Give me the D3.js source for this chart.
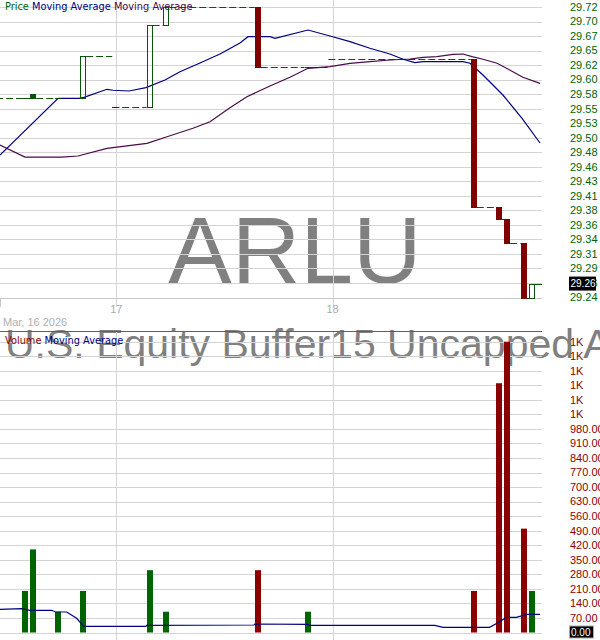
<!DOCTYPE html>
<html><head><meta charset="utf-8">
<script src="https://cdn.jsdelivr.net/npm/d3@7"></script>
<style>body{margin:0;background:#fff;overflow:hidden}svg{display:block}</style>
</head><body>
<script>
// ---------- data (15-minute slot index; slot 0 = first bar of Mar 17) ----------
const candleSlots = [-11, -10, -7, -4, 4, 6, 17, 23, 43, 46, 47, 49, 50];
const opens  = [29.569, 29.576, 29.569, 29.569, 29.554, 29.690, 29.720, 29.621, 29.634, 29.390, 29.370, 29.330, 29.240];
const closes = [29.569, 29.569, 29.569, 29.639, 29.690, 29.720, 29.621, 29.621, 29.390, 29.370, 29.330, 29.240, 29.263];
const volumes = [200, 400, 100, 200, 300, 100, 300, 100, 200, 1200, 1400, 500, 200];
const dayStartSlots = [-26, 0, 26];
const dayLabels = ["", "17", "18"];
const dateLabel = "Mar, 16 2026";
const priceTicks = [29.24, 29.264, 29.288, 29.312, 29.336, 29.36, 29.384, 29.408, 29.432, 29.456, 29.48,
                    29.504, 29.528, 29.552, 29.576, 29.60, 29.624, 29.648, 29.672, 29.696, 29.72];
const priceTickLabels = ["29.24","29.26","29.29","29.31","29.34","29.36","29.38","29.41","29.43","29.46","29.48",
                         "29.50","29.53","29.55","29.58","29.60","29.62","29.65","29.67","29.70","29.72"];
const volTicks = [0,70,140,210,280,350,420,490,560,630,700,770,840,910,980,1050,1120,1190,1260,1330,1400];
const volTickLabels = ["0.00","70.00","140.00","210.00","280.00","350.00","420.00","490.00","560.00","630.00","700.00",
                       "770.00","840.00","910.00","980.00","1K","1K","1K","1K","1K","1K"];
const maFastSlots = [-14, -7.02, -4.49, -3.9, -1.13, -0.41, 1.52, 3.56, 5.85, 7.65, 10.06, 12.46, 14.87, 15.83, 18.48, 19.08, 23.05, 25.7, 28.1, 30.5, 32.9, 34.5, 35.9, 36.9, 41.7, 42.54, 44.1, 46.5, 48.8, 50.96];
const maFastVals  = [29.4755, 29.569, 29.569, 29.5708, 29.584, 29.5824, 29.5812, 29.5867, 29.5994, 29.6131, 29.6275, 29.6423, 29.6605, 29.6709, 29.6709, 29.6683, 29.682, 29.6721, 29.6627, 29.6518, 29.6423, 29.6336, 29.628, 29.6296, 29.6296, 29.627, 29.6076, 29.5746, 29.536, 29.4953];
const maSlowSlots = [-14, -11, -6.54, -4.62, -1.13, 3.68, 6.09, 9.21, 11.26, 13.66, 15.71, 18.48, 20.88, 23.05, 25.7, 28.1, 30.5, 32.9, 35.3, 36.9, 38.56, 40.49, 41.7, 42.78, 44.1, 45.8, 47.7, 48.9, 50.96];
const maSlowVals  = [29.492, 29.4721, 29.4721, 29.4738, 29.4865, 29.4948, 29.5057, 29.5196, 29.5305, 29.5536, 29.5718, 29.5895, 29.6038, 29.6187, 29.6214, 29.627, 29.6296, 29.6324, 29.6341, 29.6369, 29.6379, 29.6418, 29.6423, 29.6379, 29.6336, 29.627, 29.6131, 29.6038, 29.5939];
const volMaSlots = [-14, -11.36, -10.4, -7.78, -7.39, -5.98, -4.78, -3.98, -3.57, 3.56, 3.64, 16.55, 16.67, 23.0, 23.3, 38.3, 39.3, 44.9, 46.1, 46.9, 48.1, 49.4, 50.96];
const volMaVals  = [111.6, 114.5, 106.8, 106.8, 100, 98.6, 68.3, 31.3, 29.8, 29.8, 34.6, 36, 40.9, 39.5, 34.6, 34.6, 25, 25, 52, 73, 73, 87.6, 87.6];
const ticker = "ARLU";
const fundName = "U.S. Equity Buffer15 Uncapped Apr ETF";

// ---------- layout ----------
const W = 600, H = 640, plotR = 542;
const GREEN = "#0b530b", VGREEN = "#006400", RED = "#800000", VRED = "#8b0000";
const NAVY = "#000080", PURPLE = "#4b0a4b", GRID = "#d4d4d4";
const svg = d3.select("body").append("svg").attr("width", W).attr("height", H);

const x = d3.scaleLinear().domain([-14, 51.2]).range([0, plotR]);
const y = d3.scaleLinear().domain([29.24, 29.72]).range([297.5, 7]);
const yv = d3.scaleLinear().domain([0, 1400]).range([632.5, 341.7]);

const candles = candleSlots.map((s, i) => ({slot: s, open: opens[i], close: closes[i], vol: volumes[i],
  up: i === 0 ? true : closes[i] >= closes[i - 1]}));

// watermark texts
svg.append("text").attr("x", 295).attr("y", 283).attr("text-anchor", "middle")
  .attr("font-family", "Liberation Sans, Arial, sans-serif").attr("font-size", 95)
  .attr("fill", "#808080").text(ticker);
svg.append("text").attr("x", 5).attr("y", 358)
  .attr("font-family", "Liberation Sans, Arial, sans-serif").attr("font-size", 41)
  .attr("fill", "#808080").text(fundName);

// gridlines price
const gp = svg.append("g");
gp.selectAll("line.h").data(priceTicks).join("line")
  .attr("x1", 0).attr("x2", plotR).attr("y1", d => Math.round(y(d)) + 0.5).attr("y2", d => Math.round(y(d)) + 0.5)
  .attr("stroke", GRID);
gp.selectAll("line.v").data(dayStartSlots.slice(1)).join("line")
  .attr("x1", d => Math.round(x(d)) + 0.5).attr("x2", d => Math.round(x(d)) + 0.5).attr("y1", 0).attr("y2", 307)
  .attr("stroke", GRID);
gp.append("line").attr("x1", 0).attr("x2", plotR).attr("y1", 298.5).attr("y2", 298.5).attr("stroke", "#c8c8c8");
gp.append("line").attr("x1", 0.5).attr("x2", 0.5).attr("y1", 298).attr("y2", 307).attr("stroke", "#c8c8c8");

// gridlines volume
const gv = svg.append("g");
gv.selectAll("line.h").data(volTicks).join("line")
  .attr("x1", 0).attr("x2", plotR).attr("y1", d => Math.round(yv(d)) + 0.5).attr("y2", d => Math.round(yv(d)) + 0.5)
  .attr("stroke", GRID);
gv.selectAll("line.v").data(dayStartSlots.slice(1)).join("line")
  .attr("x1", d => Math.round(x(d)) + 0.5).attr("x2", d => Math.round(x(d)) + 0.5).attr("y1", 331).attr("y2", H)
  .attr("stroke", GRID);
svg.append("line").attr("x1", 0).attr("x2", plotR).attr("y1", 331.5).attr("y2", 331.5).attr("stroke", "#606060");

// day labels & date
svg.selectAll("text.day").data(dayStartSlots.filter((d, i) => dayLabels[i])).join("text")
  .attr("x", d => x(d)).attr("y", 313).attr("text-anchor", "middle")
  .attr("font-family", "Liberation Sans, Arial, sans-serif").attr("font-size", 11).attr("fill", "#aaaaaa")
  .text(d => dayLabels[dayStartSlots.indexOf(d)]);
svg.append("text").attr("x", 3).attr("y", 326)
  .attr("font-family", "Liberation Sans, Arial, sans-serif").attr("font-size", 11).attr("fill", "#b0b0b0")
  .text(dateLabel);

svg.append("clipPath").attr("id", "pc").append("rect").attr("x", 0).attr("y", 0).attr("width", plotR).attr("height", H);
const plot = svg.append("g").attr("clip-path", "url(#pc)");

// dashed "no trade" segments
const segs = [];
dayStartSlots.forEach((ds) => {
  const inDay = candles.filter(c => c.slot >= ds && c.slot < ds + 26);
  if (!inDay.length) return;
  const prevDay = candles.filter(c => c.slot < ds);
  const prevClose = prevDay.length ? prevDay[prevDay.length - 1].close : null;
  const first = inDay[0];
  segs.push({x1: x(ds - 0.5), x2: x(first.slot) - 3, p: first.open,
             gapDown: prevClose !== null && first.open < prevClose});
  for (let i = 0; i < inDay.length - 1; i++) {
    segs.push({x1: x(inDay[i].slot) + 3, x2: x(inDay[i + 1].slot) - 3, p: inDay[i].close});
  }
  const last = inDay[inDay.length - 1];
  segs.push({x1: x(last.slot) + 3, x2: x(ds + 25.5), p: last.close});
});
plot.selectAll("line.dash").data(segs.filter(s => s.x2 > s.x1)).join("line")
  .attr("x1", d => d.x1).attr("x2", d => d.x2)
  .attr("y1", d => Math.round(y(d.p)) + 0.5).attr("y2", d => Math.round(y(d.p)) + 0.5)
  .attr("stroke", GREEN).attr("stroke-dasharray", "7,3");
plot.selectAll("line.gap").data(segs.filter(s => s.gapDown)).join("line")
  .attr("x1", d => d.x1).attr("x2", d => d.x1 + 7)
  .attr("y1", d => Math.round(y(d.p)) + 0.5).attr("y2", d => Math.round(y(d.p)) + 0.5)
  .attr("stroke", RED);

// moving averages
const lineP = d3.line().x(d => x(d[0])).y(d => y(d[1]));
plot.append("path").attr("d", lineP(maSlowSlots.map((s, i) => [s, maSlowVals[i]])))
  .attr("fill", "none").attr("stroke", PURPLE).attr("stroke-width", 1.2);
plot.append("path").attr("d", lineP(maFastSlots.map((s, i) => [s, maFastVals[i]])))
  .attr("fill", "none").attr("stroke", NAVY).attr("stroke-width", 1.2);

// candles
candles.forEach(c => {
  const col = c.up ? GREEN : RED;
  const top = y(Math.max(c.open, c.close)), bot = y(Math.min(c.open, c.close));
  const cx = Math.round(x(c.slot));
  if (Math.abs(c.open - c.close) < 1e-6) {
    plot.append("line").attr("x1", cx - 3).attr("x2", cx + 3).attr("y1", Math.round(top) + 0.5).attr("y2", Math.round(top) + 0.5)
      .attr("stroke", col);
  } else if (c.close > c.open) {
    plot.append("rect").attr("x", cx - 2.5).attr("y", Math.round(top) + 0.5).attr("width", 5)
      .attr("height", Math.max(1, Math.round(bot) - Math.round(top))).attr("fill", "none").attr("stroke", col);
  } else {
    plot.append("rect").attr("x", cx - 3).attr("y", Math.round(top)).attr("width", 6)
      .attr("height", Math.max(2, Math.round(bot) - Math.round(top) + 1)).attr("fill", col);
  }
});

// volume bars
plot.selectAll("rect.vol").data(candles).join("rect")
  .attr("x", d => Math.round(x(d.slot)) - 3).attr("width", 6)
  .attr("y", d => yv(d.vol)).attr("height", d => yv(0) - yv(d.vol))
  .attr("fill", d => d.up ? VGREEN : VRED);
plot.append("path").attr("d", d3.line().x(d => x(d[0])).y(d => yv(d[1]))(volMaSlots.map((s, i) => [s, volMaVals[i]])))
  .attr("fill", "none").attr("stroke", NAVY).attr("stroke-width", 1.2);

// right axes labels
svg.selectAll("text.pt").data(priceTicks).join("text")
  .attr("x", 570).attr("y", d => y(d)).attr("dy", "0.35em")
  .attr("font-family", "Liberation Sans, Arial, sans-serif").attr("font-size", 11).attr("fill", VGREEN)
  .text((d, i) => priceTickLabels[i]);
svg.selectAll("text.vt").data(volTicks).join("text")
  .attr("x", 570).attr("y", d => yv(d)).attr("dy", "0.35em")
  .attr("font-family", "Liberation Sans, Arial, sans-serif").attr("font-size", 11).attr("fill", VRED)
  .text((d, i) => volTickLabels[i]);

// last price highlight
const lastC = candles[candles.length - 1];
svg.append("rect").attr("x", 569).attr("y", y(lastC.close) - 7).attr("width", 27).attr("height", 14).attr("fill", "#000");
svg.append("text").attr("x", 570.5).attr("y", y(lastC.close)).attr("dy", "0.35em")
  .attr("font-family", "Liberation Sans, Arial, sans-serif").attr("font-size", 10).attr("fill", "#fff")
  .text(d3.format(".2f")(lastC.close));
svg.append("rect").attr("x", 569.5).attr("y", yv(0) - 6.5).attr("width", 24).attr("height", 12).attr("fill", "#000").attr("stroke", "#aaa");
svg.append("text").attr("x", 571).attr("y", yv(0)).attr("dy", "0.35em")
  .attr("font-family", "Liberation Sans, Arial, sans-serif").attr("font-size", 10).attr("fill", "#fff")
  .text(volTickLabels[0]);

// legends
const lg = svg.append("text").attr("x", 5).attr("y", 7).attr("dy", "0.35em")
  .attr("font-family", "DejaVu Sans, Verdana, sans-serif").attr("font-size", 9.8);
lg.append("tspan").attr("fill", VGREEN).text("Price ");
lg.append("tspan").attr("fill", NAVY).text("Moving Average ");
lg.append("tspan").attr("fill", PURPLE).text("Moving Average");
const lv = svg.append("text").attr("x", 5).attr("y", 341).attr("dy", "0.35em")
  .attr("font-family", "DejaVu Sans, Verdana, sans-serif").attr("font-size", 9.8);
lv.append("tspan").attr("fill", VRED).text("Volume ");
lv.append("tspan").attr("fill", NAVY).text("Moving Average");
</script>
</body></html>
